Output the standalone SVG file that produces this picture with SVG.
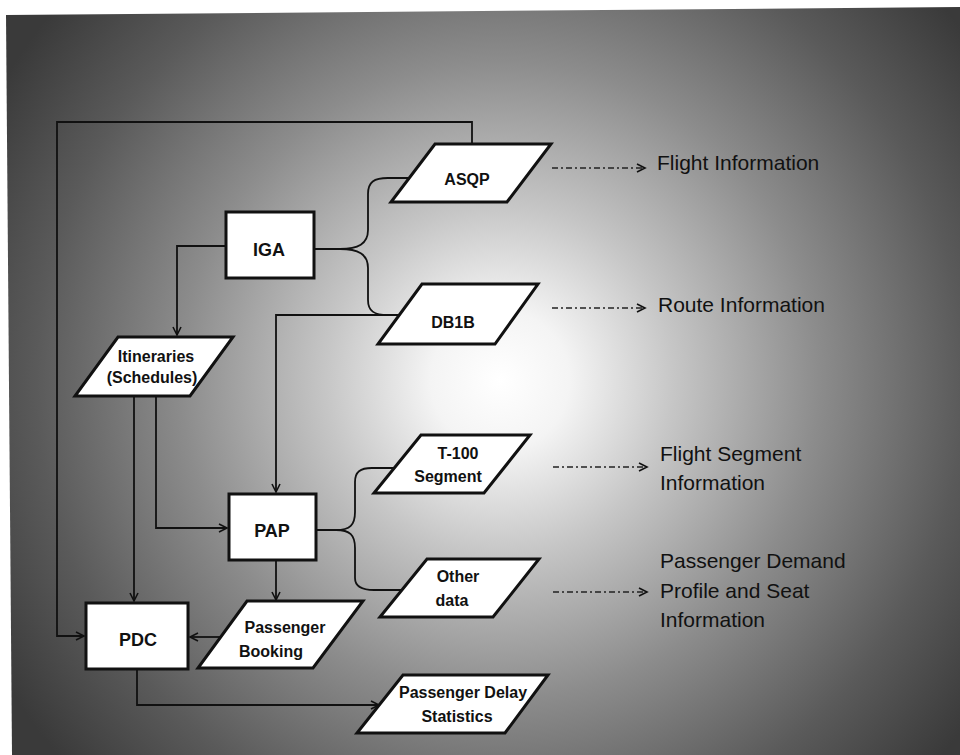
<svg xmlns="http://www.w3.org/2000/svg" width="960" height="755" viewBox="0 0 960 755">
<defs>
<radialGradient id="bg" gradientUnits="userSpaceOnUse" cx="500" cy="380" r="580">
<stop offset="0" stop-color="#ffffff"/>
<stop offset="0.12" stop-color="#f4f4f4"/>
<stop offset="0.3" stop-color="#c6c6c6"/>
<stop offset="0.55" stop-color="#8c8c8c"/>
<stop offset="0.8" stop-color="#5a5a5a"/>
<stop offset="1" stop-color="#3a3a3a"/>
</radialGradient>
<marker id="arr" markerUnits="userSpaceOnUse" markerWidth="12" markerHeight="12" refX="9" refY="5" orient="auto">
<path d="M1,1 L9,5 L1,9" fill="none" stroke="#111" stroke-width="1.6"/>
</marker>
</defs>
<style>
.node{fill:#fff;stroke:#111;stroke-width:3;stroke-linejoin:miter}
.lbl{font-family:"Liberation Sans",Arial,sans-serif;font-weight:bold;font-size:16px;fill:#111;text-anchor:middle}
.cap{font-size:18px}
.info{font-family:"Liberation Sans",Arial,sans-serif;font-size:21px;fill:#111}
.ln{fill:none;stroke:#111;stroke-width:1.8}
.dd{fill:none;stroke:#222;stroke-width:1.6;stroke-dasharray:6 3 2 3}
</style>
<rect x="0" y="0" width="960" height="755" fill="#fff"/>
<polygon points="6,15 960,7 960,755 12,755" fill="url(#bg)"/>

<g id="connectors">
<path class="ln" d="M472,144 V122 H57 V636 H84" marker-end="url(#arr)"/>
<path class="ln" d="M226,246 H177 V335" marker-end="url(#arr)"/>
<path class="ln" d="M314,249 H340 C358,249 368,244 368,230 V194 C368,182 374,178 388,178 H411"/>
<path class="ln" d="M340,249 C358,249 368,254 368,268 V300 C368,311 374,315 388,315 H399"/>
<path class="ln" d="M399,315 H276 V492" marker-end="url(#arr)"/>
<path class="ln" d="M156,396 V528 H227" marker-end="url(#arr)"/>
<path class="ln" d="M134,396 V601" marker-end="url(#arr)"/>
<path class="ln" d="M316,530 H336 C350,530 355,525 355,512 V482 C355,472 360,468 372,468 H394"/>
<path class="ln" d="M336,530 C350,530 355,535 355,548 V578 C355,587 362,590 374,590 H403"/>
<path class="ln" d="M276,560 V600" marker-end="url(#arr)"/>
<path class="ln" d="M222,637 H190" marker-end="url(#arr)"/>
<path class="ln" d="M137,669 V705 H379" marker-end="url(#arr)"/>
<path class="dd" d="M552,168 H645" marker-end="url(#arr)"/>
<path class="dd" d="M552,308 H645" marker-end="url(#arr)"/>
<path class="dd" d="M553,467 H647" marker-end="url(#arr)"/>
<path class="dd" d="M553,592 H647" marker-end="url(#arr)"/>
</g>

<g id="IGA">
<rect class="node" x="226" y="212" width="88" height="66"/>
<text class="lbl cap" x="269" y="256">IGA</text>
</g>
<g id="ASQP">
<polygon class="node" points="435,144 551,144 507,202 391,202"/>
<text class="lbl" x="467" y="185">ASQP</text>
</g>
<g id="DB1B">
<polygon class="node" points="422,284 538,284 495,344 378,344"/>
<text class="lbl" x="453" y="328">DB1B</text>
</g>
<g id="Itineraries">
<polygon class="node" points="118,337 233,337 190,396 75,396"/>
<text class="lbl" x="156" y="362">Itineraries</text>
<text class="lbl" x="152" y="383">(Schedules)</text>
</g>
<g id="PAP">
<rect class="node" x="229" y="494" width="87" height="66"/>
<text class="lbl cap" x="272" y="537">PAP</text>
</g>
<g id="T100">
<polygon class="node" points="421,435 530,435 484,493 374,493"/>
<text class="lbl" x="458" y="459">T-100</text>
<text class="lbl" x="448" y="482">Segment</text>
</g>
<g id="OtherData">
<polygon class="node" points="427,559 539,559 493,617 380,617"/>
<text class="lbl" x="458" y="582">Other</text>
<text class="lbl" x="452" y="606">data</text>
</g>
<g id="PassengerBooking">
<polygon class="node" points="247,601 363,601 313,668 198,668"/>
<text class="lbl" x="285" y="633">Passenger</text>
<text class="lbl" x="271" y="657">Booking</text>
</g>
<g id="PDC">
<rect class="node" x="86" y="603" width="102" height="66"/>
<text class="lbl cap" x="138" y="646">PDC</text>
</g>
<g id="PassengerDelay">
<polygon class="node" points="403,675 548,675 505,733 357,733"/>
<text class="lbl" x="463" y="698">Passenger Delay</text>
<text class="lbl" x="457" y="722">Statistics</text>
</g>

<g id="labels">
<text class="info" x="657" y="170">Flight Information</text>
<text class="info" x="658" y="312">Route Information</text>
<text class="info" x="660" y="461">Flight Segment</text>
<text class="info" x="660" y="490">Information</text>
<text class="info" x="660" y="568">Passenger Demand</text>
<text class="info" x="660" y="598">Profile and Seat</text>
<text class="info" x="660" y="627">Information</text>
</g>
</svg>
